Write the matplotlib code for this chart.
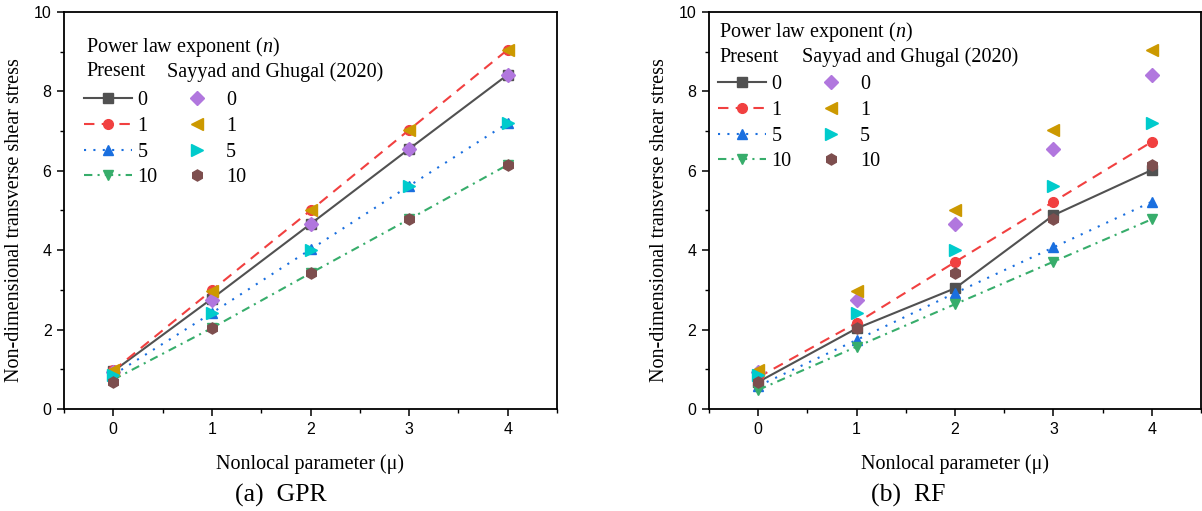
import matplotlib
matplotlib.use("Agg")
import matplotlib.pyplot as plt
from matplotlib.ticker import MultipleLocator

plt.rcParams['mathtext.fontset'] = 'custom'
plt.rcParams['mathtext.rm'] = 'Liberation Serif'
plt.rcParams['mathtext.it'] = 'Liberation Serif:italic'

mu = [0, 1, 2, 3, 4]
n_labels = ['0', '1', '5', '10']

# GPR (present)
gpr_n0 = [0.95, 2.78, 4.66, 6.55, 8.42]
gpr_n1 = [0.97, 2.99, 5.00, 7.03, 9.05]
gpr_n5 = [0.86, 2.42, 4.02, 5.62, 7.20]
gpr_n10 = [0.74, 2.04, 3.42, 4.78, 6.15]

# RF (present)
rf_n0 = [0.68, 2.03, 3.04, 4.88, 6.02]
rf_n1 = [0.80, 2.17, 3.70, 5.22, 6.73]
rf_n5 = [0.58, 1.74, 2.92, 4.07, 5.22]
rf_n10 = [0.48, 1.57, 2.64, 3.71, 4.78]

# Sayyad and Ghugal (2020)
sg_n0 = [0.93, 2.75, 4.65, 6.54, 8.42]
sg_n1 = [0.97, 2.97, 5.00, 7.03, 9.05]
sg_n5 = [0.85, 2.41, 4.01, 5.61, 7.20]
sg_n10 = [0.68, 2.04, 3.42, 4.78, 6.15]

present_colors = ['#515151', '#F14040', '#1A6FDF', '#37AD6B']
present_markers = ['s', 'o', '^', 'v']
present_styles = ['-', (0, (5, 3.5)), (0, (1, 3.5)), (0, (4, 2.5, 1, 2.5))]
sg_colors = ['#B177DE', '#CC9900', '#00CBCC', '#7D4E4E']
sg_markers = ['D', '<', '>', 'h']
sg_sizes = [7, 8.5, 8.5, 8]

serif = 'Liberation Serif'
sans = 'Liberation Sans'

fig = plt.figure(figsize=(12.02, 5.11), dpi=100)
W, H = 1202, 511

def make_ax(left_px, width_px):
    return fig.add_axes([left_px / W, (H - 409) / H, width_px / W, 397 / H])

axes_spec = [
    (make_ax(64, 493), [gpr_n0, gpr_n1, gpr_n5, gpr_n10], '(a)  GPR', 281,
     dict(title=(86, 47), present=(86, 72), sayyad=(167, 72), leg=(84, 91), ylab=24), 64, 493),
    (make_ax(709, 492), [rf_n0, rf_n1, rf_n5, rf_n10], '(b)  RF', 908,
     dict(title=(719, 32), present=(719, 57), sayyad=(802, 57), leg=(718, 75), ylab=669), 709, 492),
]

for ax, present, caption, cap_x, lg, lpx, wpx in axes_spec:
    h_present = []
    h_sg = []
    for i in range(4):
        l, = ax.plot(mu, present[i], color=present_colors[i], linestyle=present_styles[i],
                     lw=1.5, marker=present_markers[i], markersize=7, zorder=2)
        h_present.append(l)
    sg = [sg_n0, sg_n1, sg_n5, sg_n10]
    for i in range(4):
        l, = ax.plot(mu, sg[i], color=sg_colors[i], linestyle='none',
                     marker=sg_markers[i], markersize=sg_sizes[i], zorder=3)
        h_sg.append(l)

    ax.set_xlim(-0.5, 4.5)
    ax.set_ylim(0, 10)
    ax.xaxis.set_major_locator(MultipleLocator(1))
    ax.xaxis.set_minor_locator(MultipleLocator(0.5))
    ax.yaxis.set_major_locator(MultipleLocator(2))
    ax.yaxis.set_minor_locator(MultipleLocator(1))
    ax.tick_params(which='major', direction='out', length=5, width=1.1, pad=4,
                   labelsize=11.5, top=False, right=False)
    ax.tick_params(which='minor', direction='out', length=3, width=1.0, top=False, right=False)
    for lab in ax.get_xticklabels() + ax.get_yticklabels():
        lab.set_fontfamily(sans)
    for sp in ax.spines.values():
        sp.set_linewidth(1.3)

    ax.set_ylabel('Non-dimensional transverse shear stress', fontfamily=serif, fontsize=14.5)
    ax.yaxis.set_label_coords((lg['ylab'] - lpx) / wpx, (409 - 220) / 397)
    ax.set_xlabel('Nonlocal parameter (\u03bc)', fontfamily=serif, fontsize=14.5)
    ax.xaxis.set_label_coords(0.5, (409 - 454) / 397)

    def axc(px, py):
        return ((px - lpx) / wpx, (409 - py) / 397)

    tx, ty = axc(*lg['title'])
    ax.text(tx, ty, 'Power law exponent ($n$)', transform=ax.transAxes, fontfamily=serif,
            fontsize=14.5, va='center', ha='left')
    px_, py_ = axc(*lg['present'])
    ax.text(px_, py_, 'Present', transform=ax.transAxes, fontfamily=serif,
            fontsize=14.5, va='center', ha='left')
    sx, sy = axc(*lg['sayyad'])
    ax.text(sx, sy, 'Sayyad and Ghugal (2020)', transform=ax.transAxes, fontfamily=serif,
            fontsize=14.5, va='center', ha='left')

    lx, ly = axc(*lg['leg'])
    leg = ax.legend(h_present + h_sg, n_labels + n_labels, ncol=2, frameon=False,
                    loc='upper left', bbox_to_anchor=(lx, ly), borderpad=0, borderaxespad=0,
                    handlelength=2.4, handletextpad=0.25, columnspacing=0.75,
                    labelspacing=0.33, prop={'family': serif, 'size': 14.5})

    fig.text(cap_x / W, 1 - 495 / H, caption, fontfamily=serif, fontsize=18.5,
             ha='center', va='center')

fig.savefig('out.png', dpi=100)
